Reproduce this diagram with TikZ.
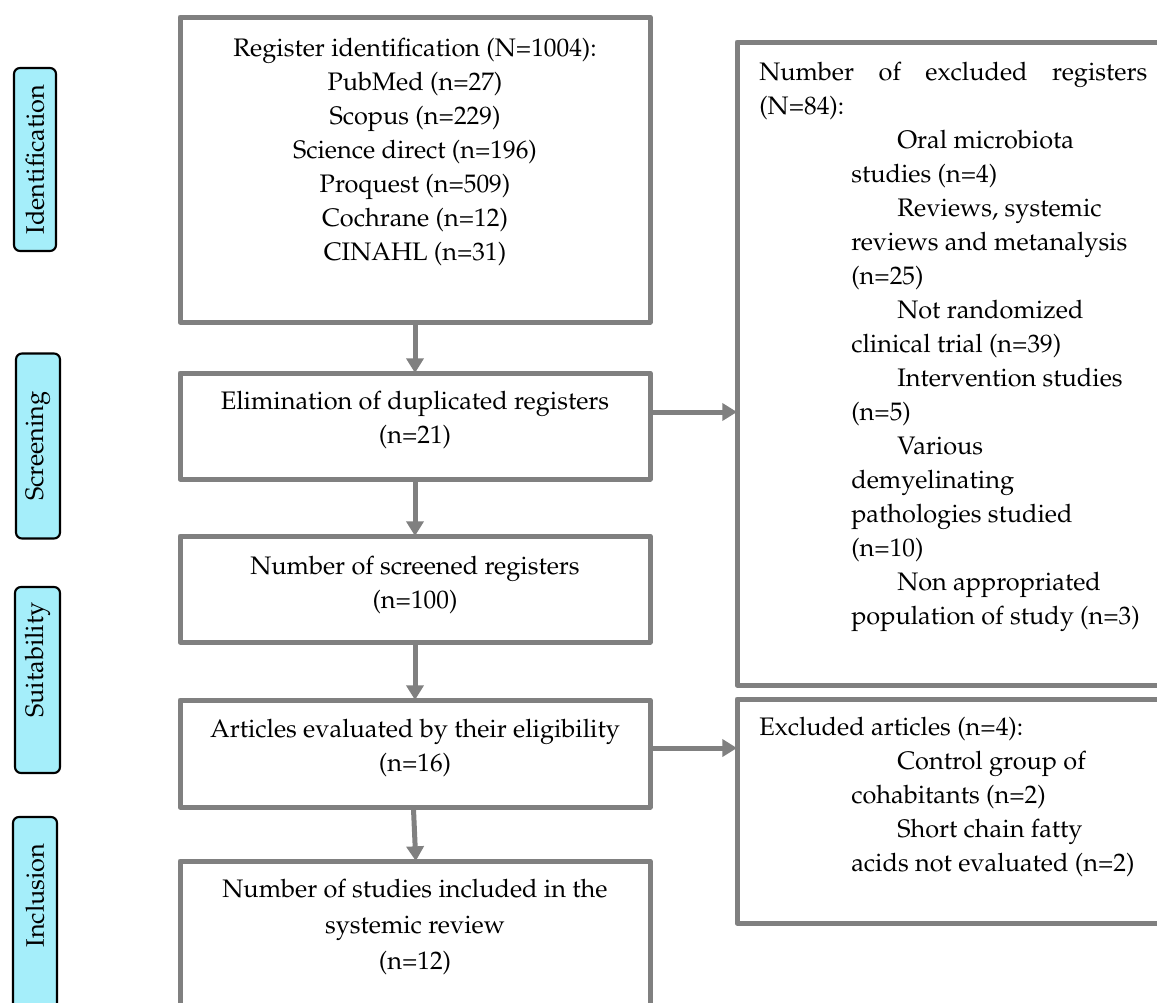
\documentclass[tikz,border=0pt]{standalone}
\usepackage[T1]{fontenc}
\usepackage{mathpazo}
\usetikzlibrary{arrows.meta}
\definecolor{lnc}{RGB}{128,128,128}
\definecolor{lab}{RGB}{165,238,250}
\begin{document}
\begin{tikzpicture}[x=0.75pt,y=-0.75pt,
  box/.style={draw=lnc, line width=3.75pt, line join=round, rectangle, inner sep=0pt, outer sep=0pt},
  txt/.style={font=\fontsize{19}{25.5}\selectfont, align=center, inner sep=0pt},
  ltxt/.style={font=\fontsize{19}{25.5}\selectfont, align=left, inner sep=0pt, anchor=west},
  stage/.style={draw=black, fill=lab, line width=1.6pt, rounded corners=4.5pt, rotate=90, inner sep=0pt, font=\fontsize{19}{25.5}\selectfont},
  arr/.style={draw=lnc, line width=3.75pt, -{Triangle[width=12.75pt,length=11pt]}},
]
\clip (0,0) rectangle (1157,1003);
\fill[white] (0,0) rectangle (1157,1003);

% stage labels
\node[stage, minimum width=137.25pt, minimum height=31.5pt] (s1) at (35,159.5) {Identification};
\node[stage, minimum width=138.75pt, minimum height=33pt] (s2) at (38,446) {Screening};
\node[stage, minimum width=139.5pt, minimum height=33.75pt] (s3) at (37.5,680) {\hspace*{30pt}Suitability};
\node[stage, minimum width=144.75pt, minimum height=33pt] (s4) at (35,913.5) {\hspace*{27pt}Inclusion};

% main column boxes
\node[box, minimum width=352.5pt, minimum height=228.75pt] (b1) at (415,169.5) {};
\node[box, minimum width=352.5pt, minimum height=79.5pt] (b2) at (415,426) {};
\node[box, minimum width=352.5pt, minimum height=79.5pt] (b3) at (415,589) {};
\node[box, minimum width=352.5pt, minimum height=80.25pt] (b4) at (415,753.5) {};
\node[box, minimum width=352.5pt, minimum height=150pt] (b5) at (415,961) {};

\node[txt] (t1) at (415,152) {Register identification (N=1004):\\PubMed (n=27)\\Scopus (n=229)\\Science direct (n=196)\\Proquest (n=509)\\Cochrane (n=12)\\CINAHL (n=31)};
\node[txt] (t2) at (415,420) {Elimination of duplicated registers\\(n=21)};
\node[txt] (t3) at (415,585) {Number of screened registers\\(n=100)};
\node[txt] (t4) at (415,747.5) {Articles evaluated by their eligibility\\(n=16)};
\node[txt, font=\fontsize{19}{27}\selectfont] (t5) at (415,927) {Number of studies included in the\\systemic review\\(n=12)};

% right boxes
\node[box, minimum width=347.25pt, minimum height=482.25pt] (r1) at (968.5,363.5) {};
\node[box, minimum width=347.25pt, minimum height=168pt] (r2) at (968.5,811) {};

\node[ltxt] (rt1) at (759,346.5) {\makebox[291pt][s]{Number of excluded registers}\\
(N=84):\\
\hspace*{103.5pt}Oral microbiota\\
\hspace*{69pt}studies (n=4)\\
\hspace*{103.5pt}Reviews, systemic\\
\hspace*{69pt}reviews and metanalysis\\
\hspace*{69pt}(n=25)\\
\hspace*{103.5pt}Not randomized\\
\hspace*{69pt}clinical trial (n=39)\\
\hspace*{103.5pt}Intervention studies\\
\hspace*{69pt}(n=5)\\
\hspace*{103.5pt}Various\\
\hspace*{69pt}demyelinating\\
\hspace*{69pt}pathologies studied\\
\hspace*{69pt}(n=10)\\
\hspace*{103.5pt}Non appropriated\\
\hspace*{69pt}population of study (n=3)};

\node[ltxt] (rt2) at (759,797) {Excluded articles (n=4):\\
\hspace*{103.5pt}Control group of\\
\hspace*{69pt}cohabitants (n=2)\\
\hspace*{103.5pt}Short chain fatty\\
\hspace*{69pt}acids not evaluated (n=2)};

% connectors
\draw[arr] (b1.south) -- (b2.north);
\draw[arr] (b2.south) -- (b3.north);
\draw[arr] (b3.south) -- (b4.north);
\draw[arr] ([xshift=-1.2pt]b4.south) -- ([xshift=0.6pt]b5.north);
\draw[arr] ([yshift=10.5pt]b2.east) -- ([yshift=10.5pt]b2.east -| r1.west);
\draw[arr] ([yshift=4.1pt]b4.east) -- ([yshift=4.1pt]b4.east -| r2.west);
\end{tikzpicture}
\end{document}
